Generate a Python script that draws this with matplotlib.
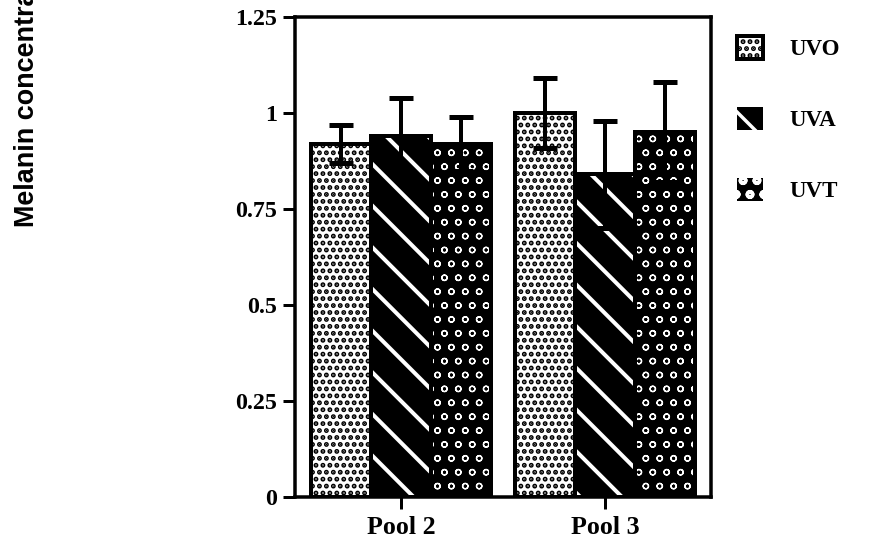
import numpy as np
import matplotlib
matplotlib.use("Agg")
import matplotlib.pyplot as plt
from matplotlib.patches import Patch

# Melanin concentration per pool and UV treatment (mean and error)
pools = ["Pool 2", "Pool 3"]
treatments = ["UVO", "UVA", "UVT"]
uvo_mean = [0.92, 1.00]
uva_mean = [0.94, 0.84]
uvt_mean = [0.92, 0.95]
uvo_err = [0.05, 0.09]
uva_err = [0.10, 0.14]
uvt_err = [0.07, 0.13]

yticks = [0, 0.25, 0.5, 0.75, 1, 1.25]
ytick_labels = ["0", "0.25", "0.5", "0.75", "1", "1.25"]

serif = "Liberation Serif"
DPI = 250
PX = 72 / DPI  # one pixel in points

fig = plt.figure(figsize=(871 / DPI, 549 / DPI), dpi=DPI)
ax = fig.add_axes([295 / 871, 1 - 497 / 549, 416 / 871, 480 / 549])

x = np.arange(len(pools))
w = 0.294
offsets = [-w, 0, w]
means = [uvo_mean, uva_mean, uvt_mean]
errs = [uvo_err, uva_err, uvt_err]

# fill style per treatment: (face, hatch colour, hatch, hatch linewidth)
styles = [
    ("white", "black", "......", 3.4 * PX),
    ("black", "white", "\\\\", 4.0 * PX),
    ("black", "white", "ooo", 1.3 * PX),
]

edge_lw = 4.0 * PX
handles = []
for off, m, (fc, hc, hatch, hlw) in zip(offsets, means, styles):
    with plt.rc_context({"hatch.linewidth": hlw}):
        bars = ax.bar(x + off, m, w, color=fc, edgecolor=hc, hatch=hatch,
                      linewidth=0, zorder=2)
        for b in bars:
            if hasattr(b, "set_hatch_linewidth"):
                b.set_hatch_linewidth(hlw)
        h = Patch(facecolor=fc, edgecolor=hc, hatch=hatch,
                  linewidth=edge_lw if fc == "white" else 0)
        if hasattr(h, "set_hatch_linewidth"):
            h.set_hatch_linewidth(hlw)
        handles.append(h)
    # black outline on top of the hatched fill
    ax.bar(x + off, m, w, fill=False, edgecolor="black", linewidth=edge_lw,
           zorder=3)

for off, m, e in zip(offsets, means, errs):
    ax.errorbar(x + off, m, yerr=e, fmt="none", ecolor="black",
                elinewidth=4 * PX, capsize=12 * PX, capthick=5 * PX, zorder=4)

ax.set_xlim(-0.52, 1.52)
ax.set_ylim(0, 1.25)
ax.set_yticks(yticks)
ax.set_yticklabels(ytick_labels, fontfamily=serif, fontweight="bold",
                   fontsize=24 * PX)
ax.set_xticks(x)
ax.set_xticklabels(pools, fontfamily=serif, fontweight="bold",
                   fontsize=26 * PX)
ax.tick_params(axis="y", length=12 * PX, width=3 * PX, pad=6 * PX)
ax.tick_params(axis="x", length=12 * PX, width=3 * PX, pad=7 * PX)
for s in ax.spines.values():
    s.set_linewidth(3.5 * PX)

fs_leg = 23 * PX
leg = fig.legend(handles, treatments, loc="upper left",
                 bbox_to_anchor=(737 / 871, 1 - 36 / 549),
                 frameon=False, borderpad=0, borderaxespad=0,
                 handlelength=26 / 23, handleheight=26 / 23,
                 handletextpad=26 / 23, labelspacing=47 / 23,
                 prop={"family": serif, "weight": "bold", "size": fs_leg})

fig.text(27 / 871, 1 - 227 / 549, "Melanin concentration", rotation=90,
         ha="center", va="bottom", fontfamily="Liberation Sans",
         fontweight="bold", fontsize=27 * PX)

fig.savefig("out.png", dpi=DPI)
